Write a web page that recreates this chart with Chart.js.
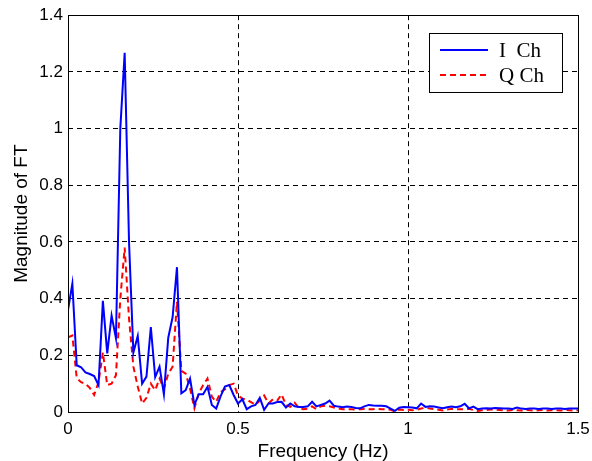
<!DOCTYPE html>
<html>
<head>
<meta charset="utf-8">
<script src="https://cdn.jsdelivr.net/npm/chart.js@4.4.1/dist/chart.umd.min.js"></script>
<style>
  body { margin: 0; background: #fff; }
  #wrap { width: 592px; height: 461px; }
</style>
</head>
<body>
<div id="wrap"><canvas id="fft" width="592" height="461"></canvas></div>
<script>
// frequency bins, 0 .. 1.5 Hz
const binCount = 118;
const binStep = 1.5 / 117;
const freqs = Array.from({ length: binCount }, (_, i) => i * binStep);

const seriesNames = ['I  Ch', 'Q Ch'];

const iCh = [
    0.36, 0.453, 0.165, 0.158, 0.14, 0.134, 0.127, 0.095, 0.392, 0.207,
    0.34, 0.26, 1.0, 1.267, 0.6, 0.21, 0.268, 0.1, 0.125, 0.3,
    0.123, 0.16, 0.062, 0.262, 0.335, 0.511, 0.066, 0.077, 0.118, 0.025,
    0.063, 0.063, 0.089, 0.025, 0.012, 0.055, 0.09, 0.095, 0.06, 0.03,
    0.045, 0.01, 0.02, 0.025, 0.05, 0.008, 0.03, 0.03, 0.035, 0.036,
    0.016, 0.03, 0.02, 0.018, 0.018, 0.02, 0.036, 0.02, 0.025, 0.03,
    0.04, 0.022, 0.019, 0.017, 0.019, 0.018, 0.014, 0.013, 0.02, 0.025,
    0.023, 0.022, 0.022, 0.02, 0.012, 0.004, 0.015, 0.018, 0.017, 0.016,
    0.013, 0.03, 0.018, 0.02, 0.019, 0.016, 0.013, 0.017, 0.019, 0.017,
    0.02, 0.029, 0.013, 0.019, 0.01, 0.012, 0.013, 0.012, 0.014, 0.013,
    0.012, 0.012, 0.011, 0.016, 0.012, 0.011, 0.012, 0.012, 0.011, 0.012,
    0.012, 0.011, 0.012, 0.012, 0.011, 0.012, 0.012, 0.012
];

const qCh = [
    0.263, 0.27, 0.12, 0.105, 0.1, 0.085, 0.06, 0.105, 0.21, 0.095,
    0.1, 0.13, 0.4, 0.58, 0.33, 0.16, 0.09, 0.03, 0.05, 0.1,
    0.077, 0.118, 0.083, 0.135, 0.16, 0.39, 0.145, 0.135, 0.083, 0.013,
    0.066, 0.095, 0.118, 0.054, 0.036, 0.07, 0.08, 0.095, 0.1, 0.058,
    0.047, 0.043, 0.035, 0.025, 0.04, 0.058, 0.03, 0.045, 0.04, 0.062,
    0.025, 0.018, 0.033, 0.013, 0.01, 0.012, 0.02, 0.01, 0.02, 0.022,
    0.02, 0.016, 0.013, 0.01, 0.009, 0.01, 0.009, 0.01, 0.011, 0.01,
    0.01, 0.011, 0.01, 0.01, 0.008, 0.002, 0.009, 0.007, 0.008, 0.006,
    0.008, 0.012, 0.015, 0.012, 0.01, 0.008, 0.005, 0.009, 0.011, 0.01,
    0.01, 0.01, 0.011, 0.007, 0.004, 0.006, 0.007, 0.009, 0.008, 0.007,
    0.006, 0.005, 0.007, 0.006, 0.005, 0.007, 0.006, 0.005, 0.006, 0.007,
    0.005, 0.006, 0.006, 0.005, 0.007, 0.006, 0.005, 0.006
];

const xTicks = [0, 0.5, 1, 1.5];
const yTicks = [0, 0.2, 0.4, 0.6, 0.8, 1, 1.2, 1.4];

const sansFont = "'Liberation Sans', Arial, sans-serif";
const serifFont = "'Liberation Serif', 'Times New Roman', serif";

const toPoints = vals => vals.map((v, i) => ({ x: freqs[i], y: v }));
const plainNum = v => String(+v.toFixed(2));

// plot frame + matlab style legend box
const frameAndLegend = {
    id: 'frameAndLegend',
    afterDatasetsDraw(chart) {
        const { ctx, chartArea: a } = chart;
        ctx.save();
        ctx.strokeStyle = '#000';
        ctx.lineWidth = 1;
        ctx.setLineDash([]);
        ctx.strokeRect(Math.round(a.left) + 0.5, Math.round(a.top) + 0.5,
            Math.round(a.right - a.left), Math.round(a.bottom - a.top));

        // legend
        const bw = 133, bh = 59;
        const bx = Math.round(a.right) - 16 - bw, by = Math.round(a.top) + 18;
        ctx.fillStyle = '#fff';
        ctx.fillRect(bx, by, bw, bh);
        ctx.strokeRect(bx + 0.5, by + 0.5, bw, bh);

        chart.data.datasets.forEach((ds, k) => {
            const ly = by + 17 + k * 25;
            ctx.beginPath();
            ctx.strokeStyle = ds.borderColor;
            ctx.lineWidth = 2;
            ctx.setLineDash(ds.borderDash || []);
            ctx.moveTo(bx + 11, ly);
            ctx.lineTo(bx + 59, ly);
            ctx.stroke();
            ctx.setLineDash([]);
            ctx.fillStyle = '#000';
            ctx.font = '21px ' + serifFont;
            ctx.textBaseline = 'middle';
            ctx.fillText(ds.label, bx + 70, ly + 1);
        });
        ctx.restore();
    }
};

new Chart(document.getElementById('fft'), {
    type: 'line',
    data: {
        datasets: [
            {
                label: seriesNames[0],
                data: toPoints(iCh),
                borderColor: '#0000ff',
                borderWidth: 2,
                pointRadius: 0,
                tension: 0,
            },
            {
                label: seriesNames[1],
                data: toPoints(qCh),
                borderColor: '#ff0000',
                borderWidth: 2,
                borderDash: [6, 4],
                pointRadius: 0,
                tension: 0,
            }
        ]
    },
    options: {
        responsive: false,
        animation: false,
        layout: { padding: { top: 14, right: 14, left: 0, bottom: 0 } },
        plugins: { legend: { display: false }, tooltip: { enabled: false } },
        scales: {
            x: {
                type: 'linear',
                min: 0,
                max: 1.5,
                afterBuildTicks: s => { s.ticks = xTicks.map(v => ({ value: v })); },
                afterFit: s => { s.height = 49; s.paddingRight = 0; s.paddingLeft = 0; },
                grid: { color: '#000', lineWidth: 1, drawTicks: false },
                border: { display: false, dash: [5, 4] },
                ticks: { color: '#000', font: { family: sansFont, size: 17 }, padding: 7, maxRotation: 0, callback: plainNum },
                title: {
                    display: true,
                    text: 'Frequency (Hz)',
                    color: '#000',
                    font: { family: sansFont, size: 19 },
                    padding: { top: 0, bottom: -2 }
                }
            },
            y: {
                min: 0,
                max: 1.4,
                afterBuildTicks: s => { s.ticks = yTicks.map(v => ({ value: v })); },
                afterFit: s => { s.width = 68; },
                grid: { color: '#000', lineWidth: 1, drawTicks: false },
                border: { display: false, dash: [5, 4] },
                ticks: { color: '#000', font: { family: sansFont, size: 17 }, padding: 5, callback: plainNum },
                title: {
                    display: true,
                    text: 'Magnitude of FT',
                    color: '#000',
                    font: { family: sansFont, size: 19 },
                    padding: { top: 10, bottom: 4 }
                }
            }
        }
    },
    plugins: [frameAndLegend]
});
</script>
</body>
</html>
